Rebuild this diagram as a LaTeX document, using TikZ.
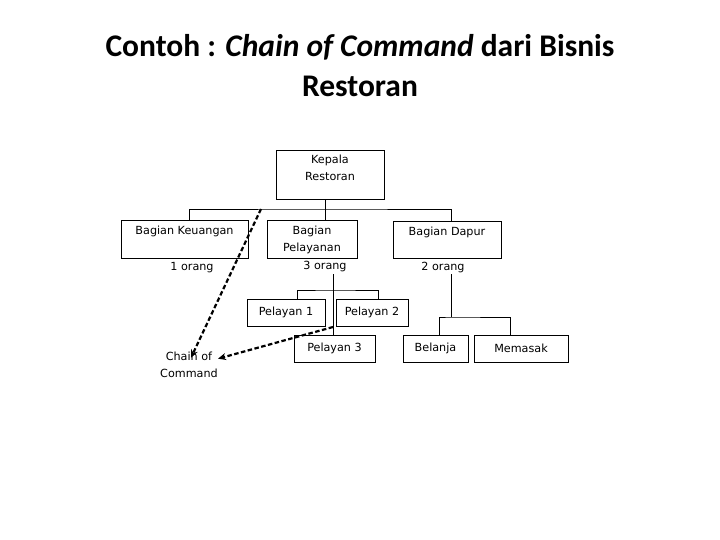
\documentclass[tikz,border=0pt]{standalone}
\usepackage{fontspec}
\setmainfont{DejaVu Sans}
\newfontfamily\titlefont{Carlito}
\usetikzlibrary{arrows.meta}
\begin{document}
\begin{tikzpicture}[x=1pt,y=-1pt,
  box/.style={draw,line width=0.8pt,inner sep=0pt,font=\fontsize{11.2}{16}\selectfont},
  lbl/.style={font=\fontsize{11.2}{17.5}\selectfont,align=center,inner sep=0pt},
  conn/.style={line width=0.8pt},
  coc/.style={line width=2.2pt,dash pattern=on 4.5pt off 2.5pt,-{Stealth[length=8pt,width=7pt]}}]
\useasboundingbox (0,0) rectangle (720,540);
% title
\node[font=\titlefont\bfseries\fontsize{31.5}{40}\selectfont,align=center,anchor=north] (title) at (360,31)
  {Contoh : \textit{Chain of Command} dari Bisnis\\Restoran};
% boxes
\node[box,minimum width=108pt,minimum height=49pt] (kep) at (330,174.5) {};
\node[lbl,anchor=north] at ([yshift=-5pt]kep.north) {Kepala\\Restoran};
\node[box,minimum width=127pt,minimum height=38pt] (keu) at (184.5,239) {};
\node[lbl,anchor=north] at ([yshift=-6pt]keu.north) {Bagian Keuangan};
\node[lbl] (keuo) at (192,268) {1 orang};
\node[box,minimum width=90pt,minimum height=38pt] (pel) at (312,239) {};
\node[lbl,anchor=north] at ([yshift=-6pt]pel.north) {Bagian\\Pelayanan};
\node[lbl] (pelo) at (325,267) {3 orang};
\node[box,minimum width=108pt,minimum height=37pt] (dap) at (447,239.5) {};
\node[lbl,anchor=north] at ([yshift=-6pt]dap.north) {Bagian Dapur};
\node[lbl] (dapo) at (443,268) {2 orang};
\node[box,minimum width=78pt,minimum height=27pt] (p1) at (286,312.5) {Pelayan 1};
\node[box,minimum width=72pt,minimum height=27pt] (p2) at (372,312.5) {Pelayan 2};
\node[box,minimum width=81pt,minimum height=27pt] (p3) at (334.5,348.5) {Pelayan 3};
\node[box,minimum width=65pt,minimum height=27pt] (bel) at (435.5,348.5) {Belanja};
\node[box,minimum width=94pt,minimum height=27pt] (mem) at (521,348.5) {Memasak};
\node[lbl] (coc) at (189,365) {Chain of\\Command};
% connectors
\coordinate (bar1) at (325,209);
\draw[conn] (kep.south -| bar1) -- (bar1);
\draw[conn] (keu.north -| 189,0) |- (bar1) -| (dap.north -| 451,0);
\draw[conn] (bar1) -- (pel.north -| bar1);
\coordinate (bar2) at (333,290);
\draw[conn] (333,274) -- (p3.north -| bar2);
\draw[conn] (p1.north -| 297,0) |- (bar2) -| (p2.north -| 378,0);
\coordinate (bar3) at (451,317);
\draw[conn] (451,274) -- (bar3);
\draw[conn] (bel.north -| 439,0) |- (bar3) -| (mem.north -| 510,0);
% chain of command arrows
\coordinate (cs1) at (261,209);
\coordinate (cs2) at (333,327);
\draw[coc] (cs1) -- ([xshift=2pt,yshift=-6pt]coc.north);
\draw[coc] (cs2) -- ([xshift=0pt,yshift=-7pt]coc.north east);
\end{tikzpicture}
\end{document}
